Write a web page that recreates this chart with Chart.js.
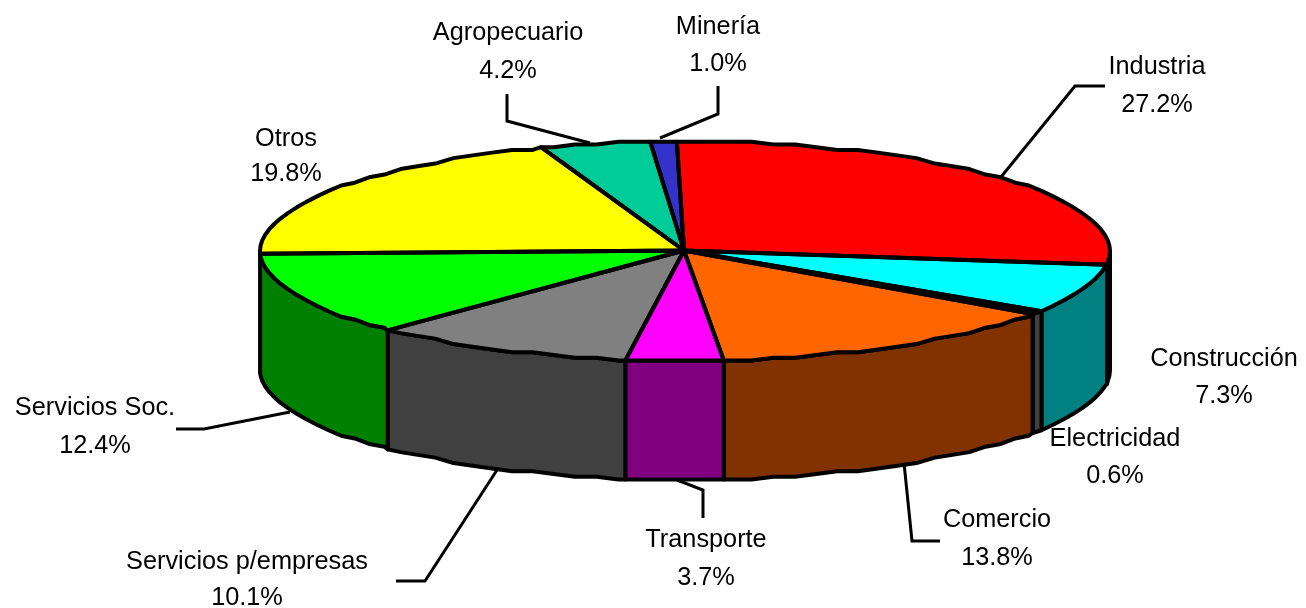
<!DOCTYPE html>
<html><head><meta charset="utf-8">
<style>html,body{margin:0;padding:0;background:#fff}canvas{display:block}</style>
<script src="https://cdn.jsdelivr.net/npm/chart.js@4"></script>
</head><body><canvas id="c" width="1306" height="608"></canvas>
<script>
const categories = ['Industria','Construcción','Electricidad','Comercio','Transporte','Servicios p/empresas','Servicios Soc.','Otros','Agropecuario','Minería'];
const shares = [27.2,7.3,0.6,13.8,3.7,10.1,12.4,19.8,4.2,1.0];
const topColors = ['#FF0000','#00FFFF','#808080','#FF6600','#FF00FF','#808080','#00FF00','#FFFF00','#00CC99','#3333CC'];
const wallColors = ['#800000','#008080','#404040','#803300','#800080','#404040','#008000','#808000','#006650','#191966'];
// label layout: centre x, first-line y, second-line y
const labelSpots = [[1157,67,105],[1224,359,396],[1115,439,476],[997,520,558],[706,540,578],[247,562,598],[95,408,446],[286,139,174],[508,33,71],[718,27,64]];
const leaders = [
 [[1105,86],[1075,86],[1001,177]],
 null,null,
 [[940,541],[912,541],[904,463]],
 [[703,518],[703,490],[677,480]],
 [[396,581],[425,581],[497,470]],
 [[176,429],[204,429],[290,412]],
 null,
 [[507,94],[507,121],[590,143]],
 [[718,86],[718,114],[660,138]]
];
const cx=685, cy=251.1, hubX=684, hubY=250.5, a=425, b=109.4, depth=119, sampleDeg=3, yGrid=2.735;

function rim(t){
  const y=b*Math.sin(t);
  return [cx+a*Math.cos(t), cy+Math.round(y/yGrid)*yGrid];
}
function rimPath(t0,t1){
  const st=sampleDeg*Math.PI/180, pts=[rim(t0)];
  for(let k=Math.ceil(t0/st+1e-6);k*st<t1-1e-6;k++) pts.push(rim(k*st));
  pts.push(rim(t1));
  return pts;
}
const pie3d={
  id:'pie3d',
  beforeDatasetsDraw(chart){
    const ctx=chart.ctx, arcs=chart.getDatasetMeta(0).data;
    ctx.save();
    ctx.lineJoin='round';ctx.lineCap='round';ctx.lineWidth=4;ctx.strokeStyle='#000';
    // walls
    arcs.forEach((arc,i)=>{
      const t0=Math.max(arc.startAngle,0), t1=Math.min(arc.endAngle,Math.PI);
      if(t1-t0<0.02) return;
      const pts=rimPath(t0,t1);
      ctx.beginPath();
      pts.forEach((p,k)=>k?ctx.lineTo(p[0],p[1]):ctx.moveTo(p[0],p[1]));
      for(let k=pts.length-1;k>=0;k--) ctx.lineTo(pts[k][0],pts[k][1]+depth);
      ctx.closePath();
      ctx.fillStyle=wallColors[i];ctx.fill();ctx.stroke();
    });
    ctx.restore();
    // top faces: the library's own arcs, flattened into the ellipse
    const r=arcs[0].outerRadius, m=arcs[0];
    ctx.save();
    const loop=rimPath(0,Math.PI*2);
    ctx.beginPath();
    loop.forEach((p,k)=>k?ctx.lineTo(p[0],p[1]):ctx.moveTo(p[0],p[1]));
    ctx.closePath();ctx.clip();
    ctx.translate(hubX,hubY);ctx.scale((a+6)/r,(b+6)/r);ctx.translate(-m.x,-m.y);
  },
  afterDatasetsDraw(chart){
    const ctx=chart.ctx, arcs=chart.getDatasetMeta(0).data;
    ctx.restore();
    ctx.save();
    ctx.lineJoin='round';ctx.lineCap='round';ctx.lineWidth=4;ctx.strokeStyle='#000';
    arcs.forEach(arc=>{
      const pts=rimPath(arc.startAngle,arc.endAngle);
      ctx.beginPath();ctx.moveTo(hubX,hubY);
      pts.forEach(p=>ctx.lineTo(p[0],p[1]));
      ctx.closePath();ctx.stroke();
    });
    ctx.lineWidth=3;ctx.lineJoin='miter';ctx.lineCap='butt';
    leaders.forEach(l=>{
      if(!l) return;
      ctx.beginPath();
      l.forEach((p,k)=>k?ctx.lineTo(p[0],p[1]):ctx.moveTo(p[0],p[1]));
      ctx.stroke();
    });
    ctx.fillStyle='#000';ctx.textAlign='center';ctx.textBaseline='middle';
    ctx.font='25.3px "Liberation Sans", Arial, sans-serif';
    categories.forEach((name,i)=>{
      const s=labelSpots[i];
      ctx.fillText(name,s[0],s[1]);
      ctx.fillText(shares[i].toFixed(1)+'%',s[0],s[2]);
    });
    ctx.restore();
  }
};
new Chart(document.getElementById('c'),{
  type:'pie',
  data:{labels:categories,datasets:[{data:shares,backgroundColor:topColors,borderWidth:0,clip:false}]},
  options:{responsive:false,animation:false,rotation:-1.1,
    plugins:{legend:{display:false},tooltip:{enabled:false}}},
  plugins:[pie3d]
});
</script></body></html>
